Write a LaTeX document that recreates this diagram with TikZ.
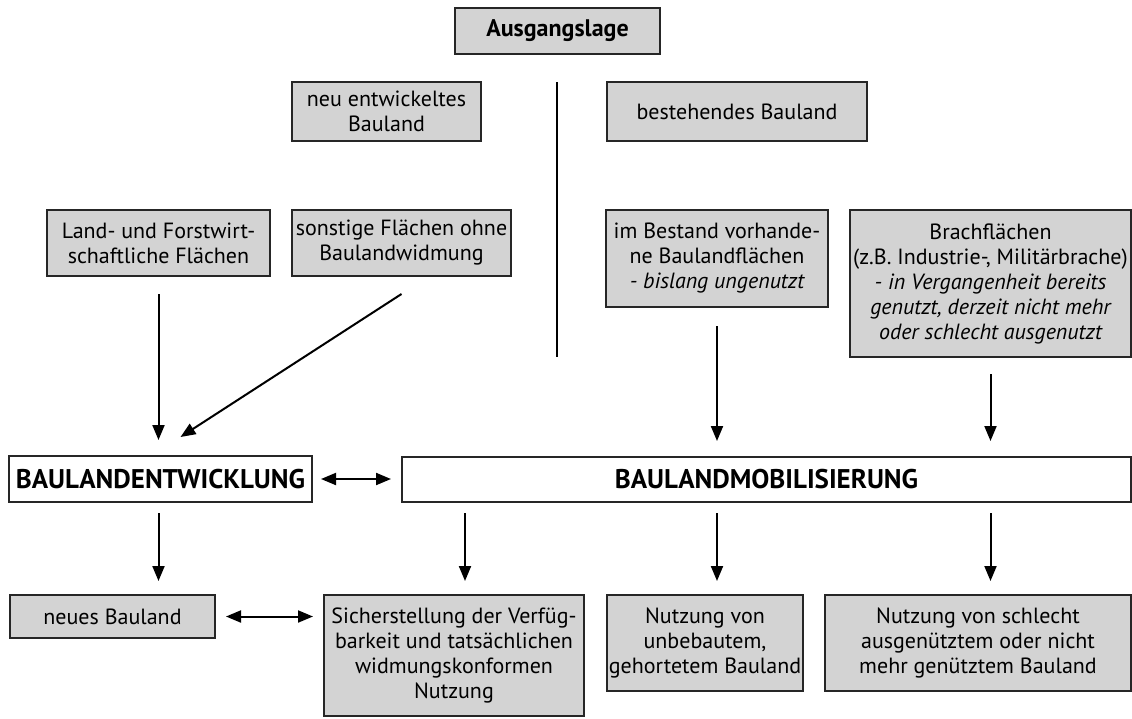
\documentclass[tikz,border=0pt]{standalone}
\usepackage{fontspec}
\setmainfont{PT Sans}
\usetikzlibrary{arrows.meta}
\definecolor{boxgray}{RGB}{211,211,211}
\tikzset{
  every node/.style={font=\fontsize{22}{25}\selectfont, align=center, inner sep=0pt},
  gbox/.style={draw=black!85, fill=boxgray, line width=2pt},
  wbox/.style={draw=black!85, fill=white, line width=2pt, font=\fontsize{27}{30}\selectfont\bfseries},
  tip/.tip={Triangle[length=15pt,width=12pt]},
  arr/.style={line width=2pt, -tip},
  darr/.style={line width=2pt, tip-tip},
  sep/.style={line width=2pt}
}
\begin{document}
\begin{tikzpicture}[x=1pt, y=-1pt]
\useasboundingbox (0,0) rectangle (1132,718);

% header
\node[gbox, minimum width=205pt, minimum height=46pt, font=\fontsize{24}{28}\selectfont\bfseries] (aus) at (557.5,31) {Ausgangslage};

% origin categories
\node[gbox, minimum width=189pt, minimum height=59pt] (neu) at (386.5,111.5) {neu entwickeltes\\Bauland};
\node[gbox, minimum width=260pt, minimum height=59pt] (best) at (737,111.5) {bestehendes Bauland};
\coordinate (sepTop) at (557,82);
\coordinate (sepBot) at (557,357);
\draw[sep] (sepTop) -- (sepBot);

% land types
\node[gbox, minimum width=223pt, minimum height=66pt] (land) at (158.5,243) {Land- und Forstwirt-\\schaftliche Flächen};
\node[gbox, minimum width=219pt, minimum height=66pt] (sonst) at (401.5,243) {sonstige Flächen ohne\\Baulandwidmung};
\node[gbox, minimum width=222pt, minimum height=97pt] (bestand) at (717,258.5) {im Bestand vorhande-\\ne Baulandflächen\\\itshape - bislang ungenutzt};
\node[gbox, minimum width=281pt, minimum height=147pt] (brach) at (990.5,283.5) {Brachflächen\\(z.B. Industrie-, Militärbrache)\\\itshape - in Vergangenheit bereits\\\itshape genutzt, derzeit nicht mehr\\\itshape oder schlecht ausgenutzt};

% processes
\node[wbox, minimum width=303pt, minimum height=46pt] (entw) at (160.5,479) {BAULANDENTWICKLUNG};
\node[wbox, minimum width=729pt, minimum height=45pt] (mob) at (766.5,479.5) {BAULANDMOBILISIERUNG};

% results
\node[gbox, minimum width=205pt, minimum height=43pt] (neues) at (112.5,616.5) {neues Bauland};
\node[gbox, minimum width=260pt, minimum height=121pt] (sich) at (454,655.5) {Sicherstellung der Verfüg-\\barkeit und tatsächlichen\\widmungskonformen\\Nutzung};
\node[gbox, minimum width=196pt, minimum height=96pt] (unbeb) at (705,643) {Nutzung von\\unbebautem,\\gehortetem Bauland};
\node[gbox, minimum width=306pt, minimum height=96pt] (schl) at (978,643) {Nutzung von schlecht\\ausgenütztem oder nicht\\mehr genütztem Bauland};

% connectors into the processes
\draw[arr, shorten <=17pt, shorten >=15pt] (land.south) -- (land.south |- entw.north);
\draw[arr] ([yshift=-17pt]sonst.south) -- ([xshift=20pt,yshift=18pt]entw.north);
\draw[arr, shorten <=18pt, shorten >=15pt] (bestand.south) -- (bestand.south |- mob.north);
\draw[arr, shorten <=16pt, shorten >=15pt] (brach.south) -- (brach.south |- mob.north);

% process links
\draw[darr, shorten <=8pt, shorten >=10pt] (entw.east) -- (entw.east -| mob.west);
\draw[darr, shorten <=10pt, shorten >=10pt] (neues.east) -- (neues.east -| sich.west);

% connectors to the results
\draw[arr, shorten <=10pt, shorten >=13pt] (entw.south -| land.south) -- (land.south |- neues.north);
\draw[arr, shorten <=10pt, shorten >=13pt] ([xshift=11pt]sich.north |- mob.south) -- ([xshift=11pt]sich.north);
\draw[arr, shorten <=10pt, shorten >=13pt] (bestand.south |- mob.south) -- (bestand.south |- unbeb.north);
\draw[arr, shorten <=10pt, shorten >=13pt] (brach.south |- mob.south) -- (brach.south |- schl.north);
\end{tikzpicture}
\end{document}
